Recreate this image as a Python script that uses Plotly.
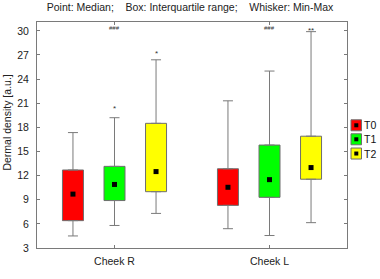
import plotly.graph_objects as go

# ---- data (rows: T0, T1, T2 ; columns: Cheek R, Cheek L) ----
categories = ["Cheek R", "Cheek L"]
groups = ["T0", "T1", "T2"]
colors = ["#ff0000", "#00ff00", "#ffff00"]

minimum = [[4.5, 5.4], [5.8, 4.55], [7.3, 6.15]]
q1 = [[6.4, 8.3], [8.9, 9.3], [10.0, 11.55]]
median = [[9.7, 10.55], [10.9, 11.5], [12.5, 13.0]]
q3 = [[12.7, 12.85], [13.15, 15.8], [18.5, 16.9]]
maximum = [[17.35, 21.3], [19.2, 25.0], [26.4, 29.9]]

# significance marks: (category, group, y, text)
sig_cat = ["Cheek R", "Cheek L", "Cheek R", "Cheek R", "Cheek L"]
sig_grp = ["T1", "T1", "T1", "T2", "T2"]
sig_y = [30.3, 30.3, 20.3, 27.15, 30.1]
sig_text = ["###", "###", "*", "*", "**"]
sig_size = [6, 6, 8, 8, 8]

FONT = "Liberation Sans, Arial, sans-serif"
offsets = [-0.268, 0.0, 0.268]
box_w = 0.1355
line_gray = "#7a7a7a"

fig = go.Figure()
for gi, g in enumerate(groups):
    xs = [ci + offsets[gi] for ci in range(len(categories))]
    # box (interquartile range)
    fig.add_trace(go.Bar(
        x=xs, base=q1[gi], y=[b - a for a, b in zip(q1[gi], q3[gi])],
        width=box_w, marker=dict(color=colors[gi], line=dict(color="#6e6e6e", width=1)),
        name=g, showlegend=False, hoverinfo="skip"))
    # whiskers (min-max) drawn from the box edges
    fig.add_trace(go.Scatter(
        x=xs + xs, y=q3[gi] + q1[gi], mode="markers",
        marker=dict(size=1, opacity=0),
        error_y=dict(type="data", symmetric=False,
                     array=[mx - b for mx, b in zip(maximum[gi], q3[gi])] + [0] * len(xs),
                     arrayminus=[0] * len(xs) + [a - mn for a, mn in zip(q1[gi], minimum[gi])],
                     color=line_gray, thickness=1, width=5),
        showlegend=False, hoverinfo="skip"))
    # median point
    fig.add_trace(go.Scatter(
        x=xs, y=median[gi], mode="markers",
        marker=dict(symbol="square", size=5, color="black"),
        showlegend=False, name=g))

annotations = []
for c, g, y, t, s in zip(sig_cat, sig_grp, sig_y, sig_text, sig_size):
    x = categories.index(c) + offsets[groups.index(g)]
    annotations.append(dict(x=x, y=y, xref="x", yref="y", text=t, showarrow=False,
                            font=dict(family=FONT, size=s, color="#333333"),
                            xanchor="center", yanchor="middle"))

# y-axis title
annotations.append(dict(x=0, y=0.555, xref="paper", yref="paper", xshift=-30,
                        text="Dermal density [a.u.]", textangle=-90, showarrow=False,
                        font=dict(family=FONT, size=10.5, color="#222222"),
                        xanchor="center", yanchor="middle"))

# legend (drawn beside the plot)
shapes = []
leg_y = [0.543, 0.481, 0.418]
for gi, g in enumerate(groups):
    shapes.append(dict(type="rect", xref="paper", yref="paper", xsizemode="pixel", ysizemode="pixel",
                       xanchor=1, yanchor=leg_y[gi], x0=4, x1=14.5, y0=-5.5, y1=5.5,
                       fillcolor=colors[gi], line=dict(color="#6e6e6e", width=1)))
    shapes.append(dict(type="rect", xref="paper", yref="paper", xsizemode="pixel", ysizemode="pixel",
                       xanchor=1, yanchor=leg_y[gi], x0=7.3, x1=11.3, y0=-2, y1=2,
                       fillcolor="black", line=dict(width=0)))
    annotations.append(dict(x=1, y=leg_y[gi], xref="paper", yref="paper", xshift=15, text=g,
                            showarrow=False, xanchor="left", yanchor="middle",
                            font=dict(family=FONT, size=10.5, color="#111111")))

axis_common = dict(showline=True, mirror="ticks", linecolor=line_gray, linewidth=1,
                   ticks="inside", ticklen=3, tickcolor=line_gray, showgrid=False, zeroline=False,
                   tickfont=dict(family=FONT, size=10.5, color="#222222"))

fig.update_layout(
    width=380, height=279,
    margin=dict(l=37, r=33, t=22, b=16, pad=0),
    plot_bgcolor="white", paper_bgcolor="white",
    barmode="overlay",
    title=dict(text="Point: Median;&nbsp;&nbsp;&nbsp; Box: Interquartile range;&nbsp;&nbsp;&nbsp; Whisker: Min-Max",
               x=0.5, xanchor="center", y=0.972, yanchor="middle",
               font=dict(family=FONT, size=10.5, color="#222222")),
    xaxis=dict(range=[-0.5, 1.5], tickvals=list(range(len(categories))), ticktext=categories,
               ticklabelstandoff=3, **axis_common),
    yaxis=dict(range=[3, 31.1], tickvals=[3, 6, 9, 12, 15, 18, 21, 24, 27, 30],
               ticklabelstandoff=5, **axis_common),
    annotations=annotations, shapes=shapes,
    showlegend=False,
)

fig.write_html("out.html")
